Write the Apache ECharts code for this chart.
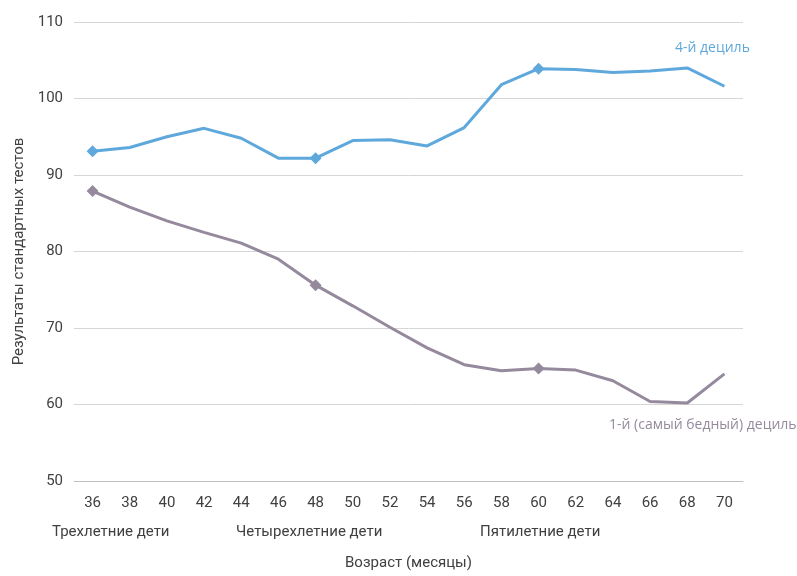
<!DOCTYPE html>
<html>
<head>
<meta charset="utf-8">
<script src="https://cdn.jsdelivr.net/npm/echarts@6/dist/echarts.min.js"></script>
<style>
  html, body { margin: 0; padding: 0; background: #fff; }
  #chart { width: 797px; height: 576px; }
</style>
</head>
<body>
<div id="chart"></div>
<script>
// Age in months
const ages = ['36','38','40','42','44','46','48','50','52','54','56','58','60','62','64','66','68','70'];
// Test scores, 4th decile
const decile4 = [93.1, 93.6, 95.0, 96.1, 94.8, 92.2, 92.2, 94.5, 94.6, 93.8, 96.2, 101.8, 103.9, 103.8, 103.4, 103.6, 104.0, 101.6];
// Test scores, 1st (poorest) decile
const decile1 = [87.9, 85.8, 84.0, 82.5, 81.1, 79.0, 75.6, 72.9, 70.1, 67.4, 65.2, 64.4, 64.7, 64.5, 63.1, 60.4, 60.2, 64.0];
// Ages at which a marker is drawn
const markedAges = ['36', '48', '60'];
// Age group captions under the axis
const groupLabels = ['Трехлетние дети', 'Четырехлетние дети', 'Пятилетние дети'];

const BLUE = '#5fa8dc';
const PURPLE = '#958a9d';
const AXIS_FONT = "'Roboto', sans-serif";
const TEXT_COLOR = '#404040';

function withMarkers(values) {
  return values.map((v, i) => ({
    value: v,
    symbol: markedAges.includes(ages[i]) ? 'diamond' : 'none'
  }));
}

const chart = echarts.init(document.getElementById('chart'));
chart.setOption({
  animation: false,
  grid: { left: 74, right: 54, top: 22, bottom: 93 },
  xAxis: {
    type: 'category',
    data: ages,
    boundaryGap: true,
    axisLine: { lineStyle: { color: '#bfbfbf', width: 1 } },
    axisTick: { alignWithLabel: true, length: 6, lineStyle: { color: '#bfbfbf' } },
    axisLabel: { color: TEXT_COLOR, fontFamily: AXIS_FONT, fontSize: 15, margin: 15 },
    name: 'Возраст (месяцы)',
    nameLocation: 'middle',
    nameGap: 75,
    nameTextStyle: { color: TEXT_COLOR, fontFamily: AXIS_FONT, fontSize: 15 }
  },
  yAxis: {
    type: 'value',
    min: 50, max: 110, interval: 10,
    axisLine: { show: false },
    axisTick: { show: false },
    splitLine: { lineStyle: { color: '#d6d6d6', width: 1 } },
    axisLabel: { color: TEXT_COLOR, fontFamily: AXIS_FONT, fontSize: 15, margin: 11 },
    name: 'Результаты стандартных тестов',
    nameLocation: 'middle',
    nameGap: 46,
    nameTextStyle: { color: TEXT_COLOR, fontFamily: AXIS_FONT, fontSize: 15 }
  },
  series: [
    {
      type: 'line',
      data: withMarkers(decile4),
      symbolSize: 12,
      showAllSymbol: true,
      lineStyle: { color: BLUE, width: 3 },
      itemStyle: { color: BLUE }
    },
    {
      type: 'line',
      data: withMarkers(decile1),
      symbolSize: 12,
      showAllSymbol: true,
      lineStyle: { color: PURPLE, width: 3 },
      itemStyle: { color: PURPLE }
    }
  ],
  graphic: [
    { type: 'text', left: 675, top: 41, style: { text: '4-й дециль', fill: BLUE, font: "14px 'Open Sans', sans-serif" } },
    { type: 'text', left: 609, top: 418, style: { text: '1-й (самый бедный) дециль', fill: PURPLE, font: "14px 'Open Sans', sans-serif" } },
    { type: 'text', left: 52, top: 525, style: { text: groupLabels[0], fill: TEXT_COLOR, font: "15px " + AXIS_FONT } },
    { type: 'text', left: 236, top: 525, style: { text: groupLabels[1], fill: TEXT_COLOR, font: "15px " + AXIS_FONT } },
    { type: 'text', left: 480, top: 525, style: { text: groupLabels[2], fill: TEXT_COLOR, font: "15px " + AXIS_FONT } }
  ]
});
</script>
</body>
</html>
